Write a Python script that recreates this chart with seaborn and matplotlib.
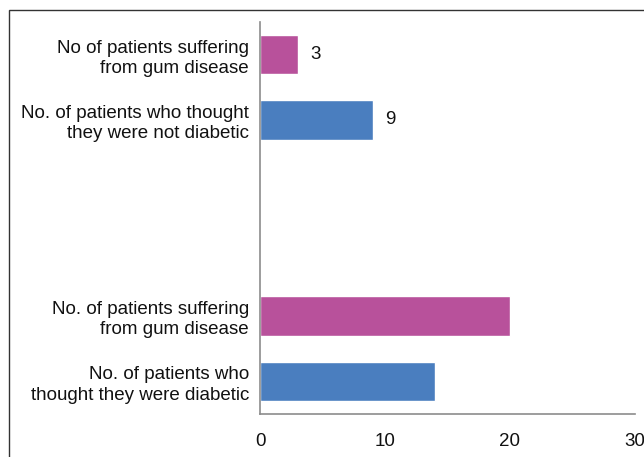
import matplotlib
matplotlib.use("Agg")
import matplotlib.pyplot as plt
import matplotlib.patches as mpatches
import numpy as np
import pandas as pd
import seaborn as sns

# Category labels from top to bottom (two blank slots separate the groups)
categories = [
    "No of patients suffering\nfrom gum disease",
    "No. of patients who thought\nthey were not diabetic",
    "",
    "",
    "No. of patients suffering\nfrom gum disease",
    "No. of patients who\nthought they were diabetic",
]
values = [3, 9, np.nan, np.nan, 20, 14]
bar_colors = ["#B8519B", "#4A7EBF", "#FFFFFF", "#FFFFFF", "#B8519B", "#4A7EBF"]
x_ticks = [0, 10, 20, 30]

sns.set_style("white")
plt.rcParams["font.family"] = ["Liberation Sans", "DejaVu Sans"]

slots = [f"slot{i}" for i in range(len(categories))]
df = pd.DataFrame({"slot": slots, "value": values})

fig = plt.figure(figsize=(6.44, 4.57), dpi=100)
ax = fig.add_axes([260 / 644, 43 / 457, 375 / 644, 392 / 457])

sns.barplot(
    data=df, x="value", y="slot", hue="slot", order=slots,
    palette=dict(zip(slots, bar_colors)), orient="h", width=0.6,
    legend=False, saturation=1, ax=ax,
)

for patch, v in zip(ax.patches, values):
    if np.isnan(v):
        continue
    y = patch.get_y() + patch.get_height() / 2
    ax.text(v + 1.0, y, f"{v:g}", va="center", ha="left", fontsize=13.5, color="#111111")

ax.set_xlim(0, 30)
ax.set_ylim(5.5, -0.5)
ax.set_xticks(x_ticks)
ax.set_xticklabels([str(t) for t in x_ticks])
ax.set_yticks(range(len(categories)))
ax.set_yticklabels(categories, linespacing=1.25)
ax.set_xlabel("")
ax.set_ylabel("")
ax.tick_params(axis="both", length=0, labelsize=13.5, colors="#111111")
ax.tick_params(axis="x", pad=14)
ax.tick_params(axis="y", pad=8)
for lbl in ax.get_yticklabels():
    lbl.set_horizontalalignment("right")
    lbl.set_multialignment("right")

for side in ["top", "right"]:
    ax.spines[side].set_visible(False)
for side in ["left", "bottom"]:
    ax.spines[side].set_color("#8C8C8C")
    ax.spines[side].set_linewidth(1.2)

# Outer chart frame
frame = mpatches.Rectangle((9 / 644, -0.1), 1.2, (447 / 457) + 0.1,
                           transform=fig.transFigure, fill=False,
                           edgecolor="#333333", linewidth=1.0, clip_on=False)
fig.patches.append(frame)

fig.savefig("out.png", dpi=100)
